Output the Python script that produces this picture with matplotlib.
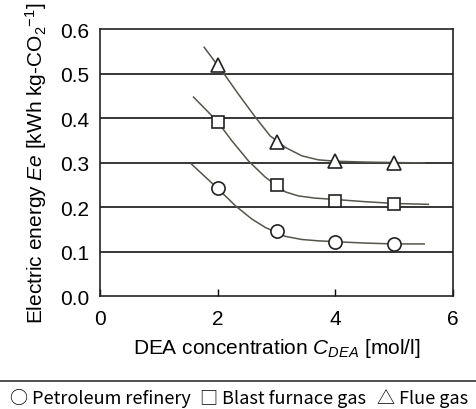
import numpy as np
import matplotlib
matplotlib.use('Agg')
import matplotlib.pyplot as plt
from matplotlib.lines import Line2D

plt.rcParams['font.family'] = ['Liberation Sans', 'DejaVu Sans']
plt.rcParams['mathtext.fontset'] = 'custom'
plt.rcParams['mathtext.rm'] = 'Liberation Sans'
plt.rcParams['mathtext.it'] = 'Liberation Sans:italic'

# measured points
conc = [2, 3, 4, 5]
refinery = [0.243, 0.147, 0.122, 0.117]
blast_furnace = [0.390, 0.249, 0.213, 0.207]
flue_gas = [0.520, 0.345, 0.303, 0.300]

# trend curves
refinery_curve_x = [1.55, 1.99, 2.30, 2.58, 2.81, 3.15, 3.43, 3.71, 4.0, 4.5, 5.0, 5.51]
refinery_curve_y = [0.297, 0.243, 0.203, 0.173, 0.154, 0.134, 0.127, 0.124, 0.122, 0.119, 0.117, 0.117]
blast_curve_x = [1.59, 1.99, 2.24, 2.52, 2.81, 3.15, 3.37, 3.65, 3.88, 4.5, 5.0, 5.58]
blast_curve_y = [0.447, 0.393, 0.349, 0.304, 0.267, 0.234, 0.225, 0.220, 0.218, 0.212, 0.208, 0.206]
flue_curve_x = [1.77, 2.11, 2.35, 2.64, 2.89, 3.15, 3.43, 3.71, 3.99, 4.5, 5.0, 5.52]
flue_curve_y = [0.559, 0.499, 0.454, 0.402, 0.360, 0.334, 0.315, 0.306, 0.303, 0.301, 0.300, 0.299]

legend_labels = ['○ Petroleum refinery', '□ Blast furnace gas', '△ Flue gas']

curve_color = '#55554c'

fig = plt.figure(figsize=(4.76, 4.10), dpi=100)
ax = fig.add_axes([0.2101, 0.2756, 0.7416, 0.6512])

for y in [0.1, 0.2, 0.3, 0.4, 0.5]:
    ax.axhline(y, color='black', lw=1.1, zorder=1)

ax.plot(refinery_curve_x, refinery_curve_y, color=curve_color, lw=1.1, zorder=2)
ax.plot(blast_curve_x, blast_curve_y, color=curve_color, lw=1.1, zorder=2)
ax.plot(flue_curve_x, flue_curve_y, color=curve_color, lw=1.1, zorder=2)

mk = dict(ls='none', mfc='white', mec='#222222', mew=1.2, zorder=3)
ax.plot(conc, refinery, marker='o', ms=9.5, **mk)
ax.plot(conc, blast_furnace, marker='s', ms=9, **mk)
ax.plot(conc, flue_gas, marker='^', ms=10.5, **mk)

ax.set_xlim(0, 6)
ax.set_ylim(0, 0.6)
ax.set_xticks([0, 2, 4, 6])
ax.set_yticks([0.0, 0.1, 0.2, 0.3, 0.4, 0.5, 0.6])
ax.set_yticklabels(['0.0', '0.1', '0.2', '0.3', '0.4', '0.5', '0.6'])
ax.tick_params(axis='x', direction='in', length=5, width=1, labelsize=15, pad=9)
ax.tick_params(axis='y', direction='in', length=0, labelsize=15, pad=8)
for s in ax.spines.values():
    s.set_linewidth(1.2)
    s.set_color('#222222')

ax.set_xlabel('DEA concentration $C_{DEA}$ [mol/l]', fontsize=15, labelpad=6)
ax.set_ylabel('Electric energy $Ee$ [kWh kg-CO$_2$$^{-1}$]', fontsize=15, labelpad=8)

fig.add_artist(Line2D([0, 1], [0.0683, 0.0683], color='#222222', lw=1.1))
for lab, x0 in zip(legend_labels, [0.021, 0.420, 0.792]):
    fig.text(x0, 0.027, lab, ha='left', va='center', fontsize=13,
             family=['Noto Sans CJK JP', 'DejaVu Sans'])

fig.savefig('out.png', dpi=100)
